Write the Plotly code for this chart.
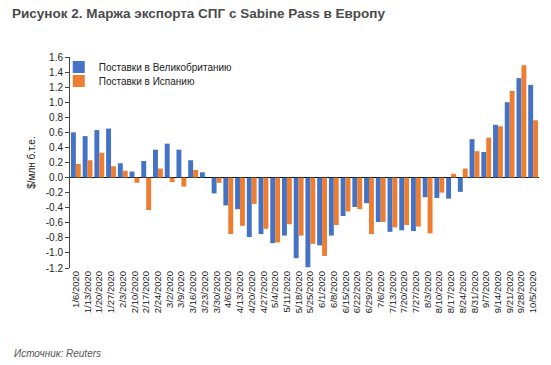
import plotly.graph_objects as go

dates = ["1/6/2020", "1/13/2020", "1/20/2020", "1/27/2020", "2/3/2020", "2/10/2020",
         "2/17/2020", "2/24/2020", "3/2/2020", "3/9/2020", "3/16/2020", "3/23/2020",
         "3/30/2020", "4/6/2020", "4/13/2020", "4/20/2020", "4/27/2020", "5/4/2020",
         "5/11/2020", "5/18/2020", "5/25/2020", "6/1/2020", "6/8/2020", "6/15/2020",
         "6/22/2020", "6/29/2020", "7/6/2020", "7/13/2020", "7/20/2020", "7/27/2020",
         "8/3/2020", "8/10/2020", "8/17/2020", "8/24/2020", "8/31/2020", "9/7/2020",
         "9/14/2020", "9/21/2020", "9/28/2020", "10/5/2020"]

uk = [0.60, 0.55, 0.63, 0.65, 0.19, 0.08, 0.22, 0.37, 0.45, 0.37, 0.23, 0.07,
      -0.21, -0.37, -0.42, -0.79, -0.75, -0.87, -0.77, -1.07, -1.19, -0.90, -0.77, -0.51,
      -0.39, -0.34, -0.59, -0.72, -0.70, -0.71, -0.26, -0.27, -0.28, -0.19, 0.51, 0.34,
      0.70, 1.00, 1.32, 1.23]

spain = [0.18, 0.23, 0.33, 0.15, 0.09, -0.07, -0.43, 0.12, -0.06, -0.12, 0.10, 0.0,
         -0.07, -0.75, -0.64, -0.35, -0.68, -0.86, -0.62, -0.77, -0.88, -1.04, -0.63, -0.45,
         -0.42, -0.75, -0.59, -0.66, -0.63, -0.65, -0.74, -0.20, 0.05, 0.12, 0.35, 0.53,
         0.68, 1.15, 1.49, 0.76]

ytick_vals = [1.6, 1.4, 1.2, 1.0, 0.8, 0.6, 0.4, 0.2, 0.0, -0.2, -0.4, -0.6, -0.8, -1.0, -1.2]
ytick_text = ["1.6", "1.4", "1.2", "1.0", "0.8", "0.6", "0.4", "0.2", "0.0",
              "-0.2", "-0.4", "-0.6", "-0.8", "-1.0", "-1.2"]

FONT = "Liberation Sans, Arial, sans-serif"

fig = go.Figure()
fig.add_trace(go.Bar(x=dates, y=uk, name="Поставки в Великобританию", legend="legend",
                     marker=dict(color="#4472C4", line=dict(width=0))))
fig.add_trace(go.Bar(x=dates, y=spain, name="Поставки в Испанию", legend="legend2",
                     marker=dict(color="#ED7D31", line=dict(width=0))))

leg_common = dict(xanchor="left", yanchor="middle", bgcolor="rgba(255,255,255,0)",
                  font=dict(size=10, color="#222222"), itemwidth=30)

fig.update_layout(
    width=551, height=365,
    margin=dict(l=70, r=12, t=57, b=97),
    paper_bgcolor="white", plot_bgcolor="white",
    barmode="group", bargap=0.16, bargroupgap=0.0,
    font=dict(family=FONT, size=10, color="#222222"),
    showlegend=True,
    legend=dict(x=-0.024, y=0.953, **leg_common),
    legend2=dict(x=-0.024, y=0.886, **leg_common),
    annotations=[
        dict(text="<b>Рисунок 2. Маржа экспорта СПГ с Sabine Pass в Европу</b>",
             xref="paper", yref="paper", x=-0.128, y=1.0, xanchor="left", yanchor="bottom",
             yshift=34, showarrow=False, font=dict(size=13.5, color="#4a4a4a", family=FONT)),
        dict(text="<i>Источник: Reuters</i>",
             xref="paper", yref="paper", x=-0.124, y=0, xanchor="left", yanchor="top",
             yshift=-78, showarrow=False, font=dict(size=10, color="#555555", family=FONT)),
    ],
)

fig.update_xaxes(
    type="category", tickmode="array", tickvals=dates, ticktext=dates,
    tickangle=-90, showgrid=False, showline=False, ticks="",
    tickfont=dict(size=9.5, color="#222222"), zeroline=False, automargin=False,
)
fig.update_yaxes(
    range=[-1.2, 1.6], tickvals=ytick_vals, ticktext=ytick_text,
    showgrid=False, showline=True, linecolor="#444444", linewidth=1,
    ticks="outside", ticklen=4, tickcolor="#444444",
    zeroline=True, zerolinecolor="#000000", zerolinewidth=1.2,
    tickfont=dict(size=10, color="#222222"), automargin=False,
    title=dict(text="$/млн б.т.е.", font=dict(size=10, color="#222222"), standoff=8),
)

fig.write_html("out.html", config={"displayModeBar": False},
               post_script="document.body.style.margin='0';")
